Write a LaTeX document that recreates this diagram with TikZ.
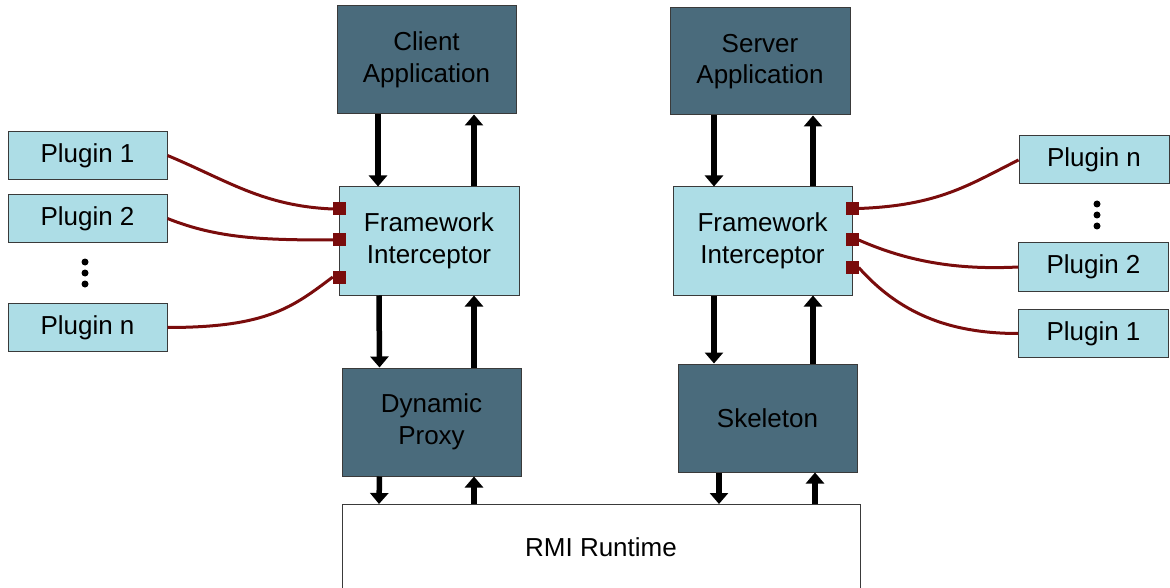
\documentclass[tikz,border=0pt]{standalone}
\usepackage{fontspec}
\setmainfont{Liberation Sans}
\usetikzlibrary{arrows.meta,calc}
\definecolor{appfill}{HTML}{4A6B7C}
\definecolor{lightfill}{HTML}{ADDDE6}
\definecolor{edgegray}{HTML}{3A3A3A}
\definecolor{plugred}{HTML}{7A0C0C}
\tikzset{
  box/.style={draw=edgegray, line width=1pt, inner sep=0pt, align=center,
    font=\fontsize{26}{31.5}\selectfont},
  dark/.style={box, fill=appfill, minimum width=179pt, minimum height=108pt},
  light/.style={box, fill=lightfill, minimum width=180pt, minimum height=108pt},
  plugbox/.style={box, fill=lightfill, minimum width=159pt, minimum height=48pt},
  port/.style={fill=plugred, draw=none, minimum size=13pt, inner sep=0pt},
  flow/.style={line width=5.5pt, -{Triangle[width=18pt,length=11pt]}},
  wire/.style={draw=plugred, line width=3pt},
  dot/.style={fill=black, draw=none, circle, minimum size=7pt, inner sep=0pt}
}
\begin{document}
\begin{tikzpicture}[x=1pt,y=-1pt]
\useasboundingbox (0,0) rectangle (1170,588);
\clip (0,0) rectangle (1170,588);

% application layer
\node[dark] (client) at (426.5,60) {Client\\Application};
\node[dark, minimum width=180pt, minimum height=107pt] (server) at (760,61.5) {Server\\Application};

% interceptors
\node[light] (lfi) at (429,241) {Framework\\Interceptor};
\node[light, minimum width=179pt] (rfi) at (762.5,241) {Framework\\Interceptor};

% proxy and skeleton
\node[dark] (proxy) at (431.5,422) {Dynamic\\Proxy};
\node[dark] (skel) at (767.5,418) {Skeleton};

% runtime
\node[box, fill=white, minimum width=518pt, minimum height=90pt, anchor=north] (rmi) at (601,504) {};
\node[font=\fontsize{26}{31.5}\selectfont] (rmitext) at (601,547) {RMI Runtime};

% plugins, client side
\node[plugbox] (lp1) at (87.5,155.5) {Plugin 1};
\node[plugbox] (lp2) at (87.5,218.5) {Plugin 2};
\node[plugbox] (lpn) at (87.5,327.5) {Plugin n};
\node[dot] (ld1) at (85,262) {};
\node[dot] (ld2) at (85,273) {};
\node[dot] (ld3) at (85,284) {};

% plugins, server side
\node[plugbox, minimum width=150pt] (rpn) at (1094,160) {Plugin n};
\node[plugbox, minimum width=150pt] (rp2) at (1093.5,267) {Plugin 2};
\node[plugbox, minimum width=150pt] (rp1) at (1093.5,333.5) {Plugin 1};
\node[dot] (rd1) at (1097,204) {};
\node[dot] (rd2) at (1097,215) {};
\node[dot] (rd3) at (1097,226) {};

% plugin ports on the interceptors
\node[port] (ls1) at (339.5,209) {};
\node[port] (ls2) at (339.5,240) {};
\node[port] (ls3) at (339.5,277) {};
\node[port] (rs1) at (852,208.5) {};
\node[port] (rs2) at (852,240) {};
\node[port] (rs3) at (852,267.5) {};

% plugin wires
\draw[wire] (lp1.east) .. controls +(60,25) and +(-70,-3) .. (ls1.west);
\draw[wire] (lp2.east) .. controls +(50,20) and +(-70,0) .. (ls2.west);
\draw[wire] (lpn.east) .. controls +(100,0) and +(-40,30) .. (ls3.west);
\draw[wire] (rs1.east) .. controls +(80,-3) and +(-50,25) .. (rpn.west);
\draw[wire] (rs2.east) .. controls +(50,22) and +(-60,3) .. (rp2.west);
\draw[wire] (rs3.east) .. controls +(40,45) and +(-70,0) .. (rp1.west);

% client side calls
\draw[flow] ([xshift=-48.5pt]client.south) -- ([xshift=-51pt]lfi.north);
\draw[flow] ([xshift=45pt]lfi.north) -- ([xshift=47.5pt]client.south);
\draw[flow] ([xshift=-50pt]lfi.south) -- ([xshift=-52pt]proxy.north);
\draw[flow] ([xshift=42.5pt]proxy.north) -- ([xshift=45pt]lfi.south);
\draw[flow] ([xshift=-52pt]proxy.south) -- (379,504);
\draw[flow] (474,504) -- ([xshift=42.5pt]proxy.south);

% server side calls
\draw[flow] ([xshift=-46pt]server.south) -- ([xshift=-48.5pt]rfi.north);
\draw[flow] ([xshift=50.5pt]rfi.north) -- ([xshift=53pt]server.south);
\draw[flow] ([xshift=-48.5pt]rfi.south) -- ([xshift=-53.5pt]skel.north);
\draw[flow] ([xshift=45.5pt]skel.north) -- ([xshift=50.5pt]rfi.south);
\draw[flow] ([xshift=-48.5pt]skel.south) -- (719,504);
\draw[flow] (815,504) -- ([xshift=47.5pt]skel.south);
\end{tikzpicture}
\end{document}
